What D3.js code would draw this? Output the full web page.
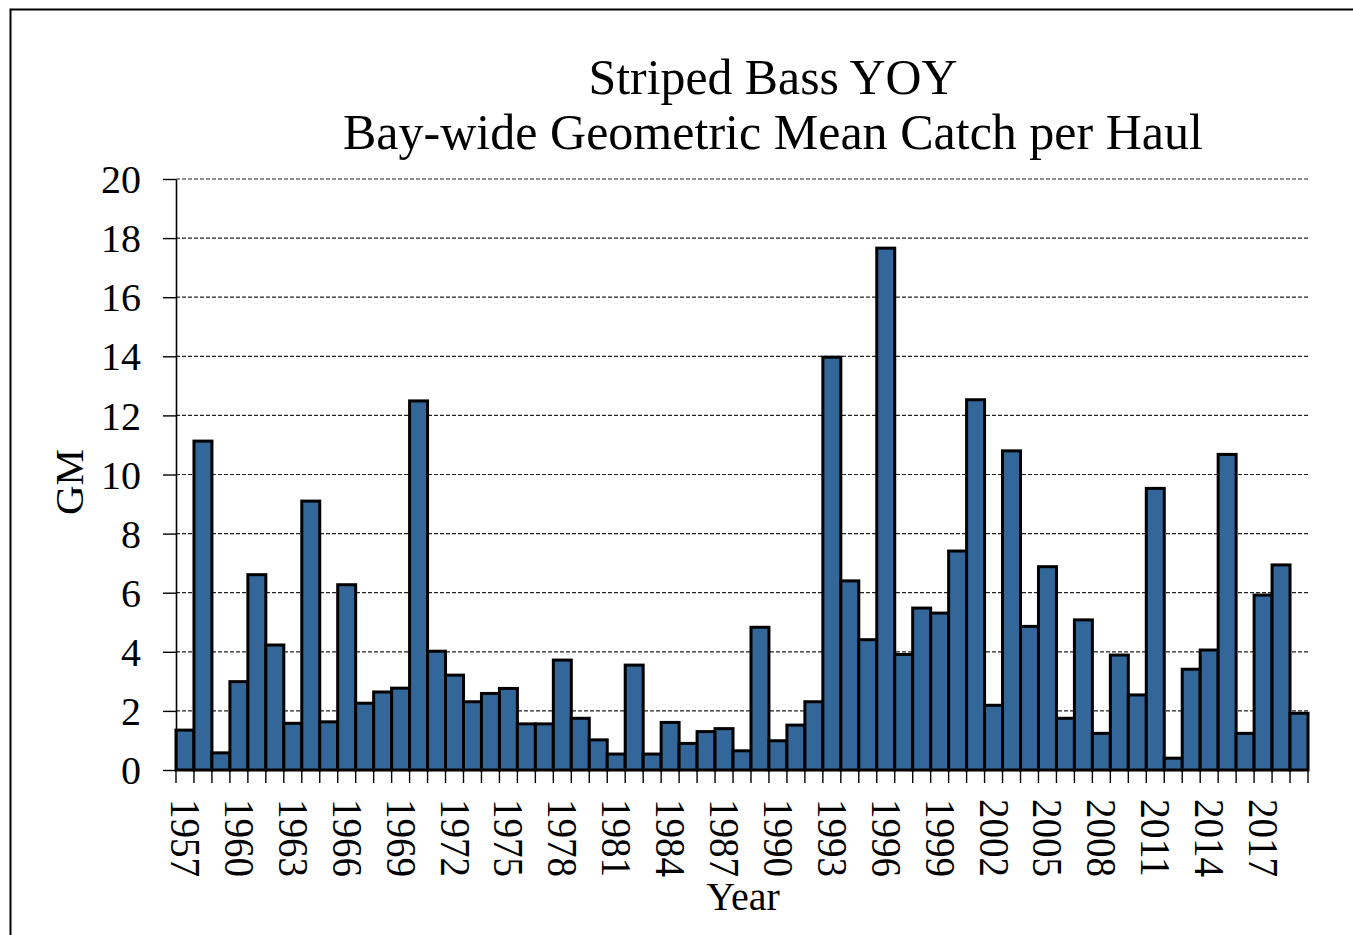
<!DOCTYPE html>
<html>
<head>
<meta charset="utf-8">
<script src="https://cdn.jsdelivr.net/npm/d3@7"></script>
<style>
  body { margin: 0; background: #fff; }
  svg { display: block; font-family: "Liberation Serif", "Times New Roman", serif; }
</style>
</head>
<body>
<svg id="chart" width="1353" height="935"></svg>
<script>
// striped bass young-of-year index, 1957-2019
const years = d3.range(1957, 2020);
const gm = [
  1.35, 11.13, 0.58, 2.99, 6.61, 4.23, 1.58, 9.10, 1.63, 6.27,
  2.26, 2.64, 2.77, 12.49, 4.02, 3.21, 2.31, 2.59, 2.76, 1.56,
  1.56, 3.72, 1.75, 1.02, 0.54, 3.55, 0.54, 1.61, 0.90, 1.30,
  1.40, 0.65, 4.83, 0.99, 1.52, 2.31, 13.97, 6.40, 4.41, 17.66,
  3.91, 5.48, 5.31, 7.41, 12.53, 2.19, 10.80, 4.86, 6.88, 1.75,
  5.08, 1.24, 3.89, 2.54, 9.53, 0.40, 3.41, 4.06, 10.68, 1.24,
  5.92, 6.94, 1.92
];
const yearLabels = [1957, 1960, 1963, 1966, 1969, 1972, 1975, 1978, 1981, 1984,
  1987, 1990, 1993, 1996, 1999, 2002, 2005, 2008, 2011, 2014, 2017];
const yTicks = [0, 2, 4, 6, 8, 10, 12, 14, 16, 18, 20];

const margin = {top: 179, right: 45, bottom: 165, left: 176};
const width = 1353, height = 935;

const svg = d3.select('#chart');

// outer frame, runs off the right and bottom edge
svg.append('rect')
  .attr('x', 10.5).attr('y', 9.5)
  .attr('width', 1400).attr('height', 1000)
  .attr('fill', 'none').attr('stroke', '#000').attr('stroke-width', 2);

const x = d3.scaleBand()
  .domain(years)
  .range([margin.left, width - margin.right])
  .padding(0);

const y = d3.scaleLinear()
  .domain([0, 20])
  .range([height - margin.bottom, margin.top]);

// gridlines
svg.append('g')
  .selectAll('line')
  .data(yTicks.filter(d => d > 0))
  .join('line')
  .attr('x1', margin.left).attr('x2', width - margin.right)
  .attr('y1', d => y(d)).attr('y2', d => y(d))
  .attr('stroke', '#222').attr('stroke-width', 1.2)
  .attr('stroke-dasharray', '4,2');

// bars
svg.append('g')
  .selectAll('rect')
  .data(gm)
  .join('rect')
  .attr('x', (d, i) => x(years[i]))
  .attr('y', d => y(d))
  .attr('width', x.bandwidth())
  .attr('height', d => y(0) - y(d))
  .attr('fill', '#336699')
  .attr('stroke', '#000')
  .attr('stroke-width', 3);

// y axis
const yAxis = svg.append('g')
  .attr('transform', `translate(${margin.left},0)`)
  .call(d3.axisLeft(y).tickValues(yTicks).tickSize(13).tickPadding(22).tickSizeOuter(0));
yAxis.select('.domain').attr('stroke', '#000').attr('stroke-width', 1.6);
yAxis.selectAll('.tick line').attr('stroke', '#000').attr('stroke-width', 1.4);
yAxis.selectAll('.tick text')
  .attr('font-family', '"Liberation Serif", "Times New Roman", serif')
  .attr('font-size', 40)
  .attr('fill', '#000')
  .attr('dy', '0.34em');

// x axis: ticks on bar edges
const xAxis = svg.append('g')
  .attr('transform', `translate(0,${y(0)})`);
xAxis.append('line')
  .attr('x1', margin.left).attr('x2', width - margin.right)
  .attr('stroke', '#000').attr('stroke-width', 2);
xAxis.selectAll('line.tk')
  .data(years.concat([null]))
  .join('line')
  .attr('class', 'tk')
  .attr('x1', (d, i) => margin.left + i * x.step())
  .attr('x2', (d, i) => margin.left + i * x.step())
  .attr('y1', 0).attr('y2', 13)
  .attr('stroke', '#000').attr('stroke-width', 1.4);
xAxis.selectAll('text')
  .data(yearLabels)
  .join('text')
  .attr('transform', d => `translate(${x(d) + x.bandwidth() / 2 - 14},29) rotate(90)`)
  .attr('font-size', 42)
  .attr('textLength', 78)
  .attr('lengthAdjust', 'spacingAndGlyphs')
  .attr('fill', '#000')
  .text(d => d);

// axis titles
svg.append('text')
  .attr('x', 743).attr('y', 910)
  .attr('text-anchor', 'middle')
  .attr('font-size', 40)
  .text('Year');

svg.append('text')
  .attr('transform', 'translate(83,482) rotate(-90)')
  .attr('text-anchor', 'middle')
  .attr('font-size', 41)
  .text('GM');

// title
svg.append('text')
  .attr('x', 773).attr('y', 94)
  .attr('text-anchor', 'middle')
  .attr('font-size', 50)
  .attr('textLength', 369)
  .attr('lengthAdjust', 'spacingAndGlyphs')
  .text('Striped Bass YOY');

svg.append('text')
  .attr('x', 773).attr('y', 149)
  .attr('text-anchor', 'middle')
  .attr('font-size', 50)
  .attr('textLength', 860)
  .attr('lengthAdjust', 'spacing')
  .text('Bay-wide Geometric Mean Catch per Haul');
</script>
</body>
</html>
